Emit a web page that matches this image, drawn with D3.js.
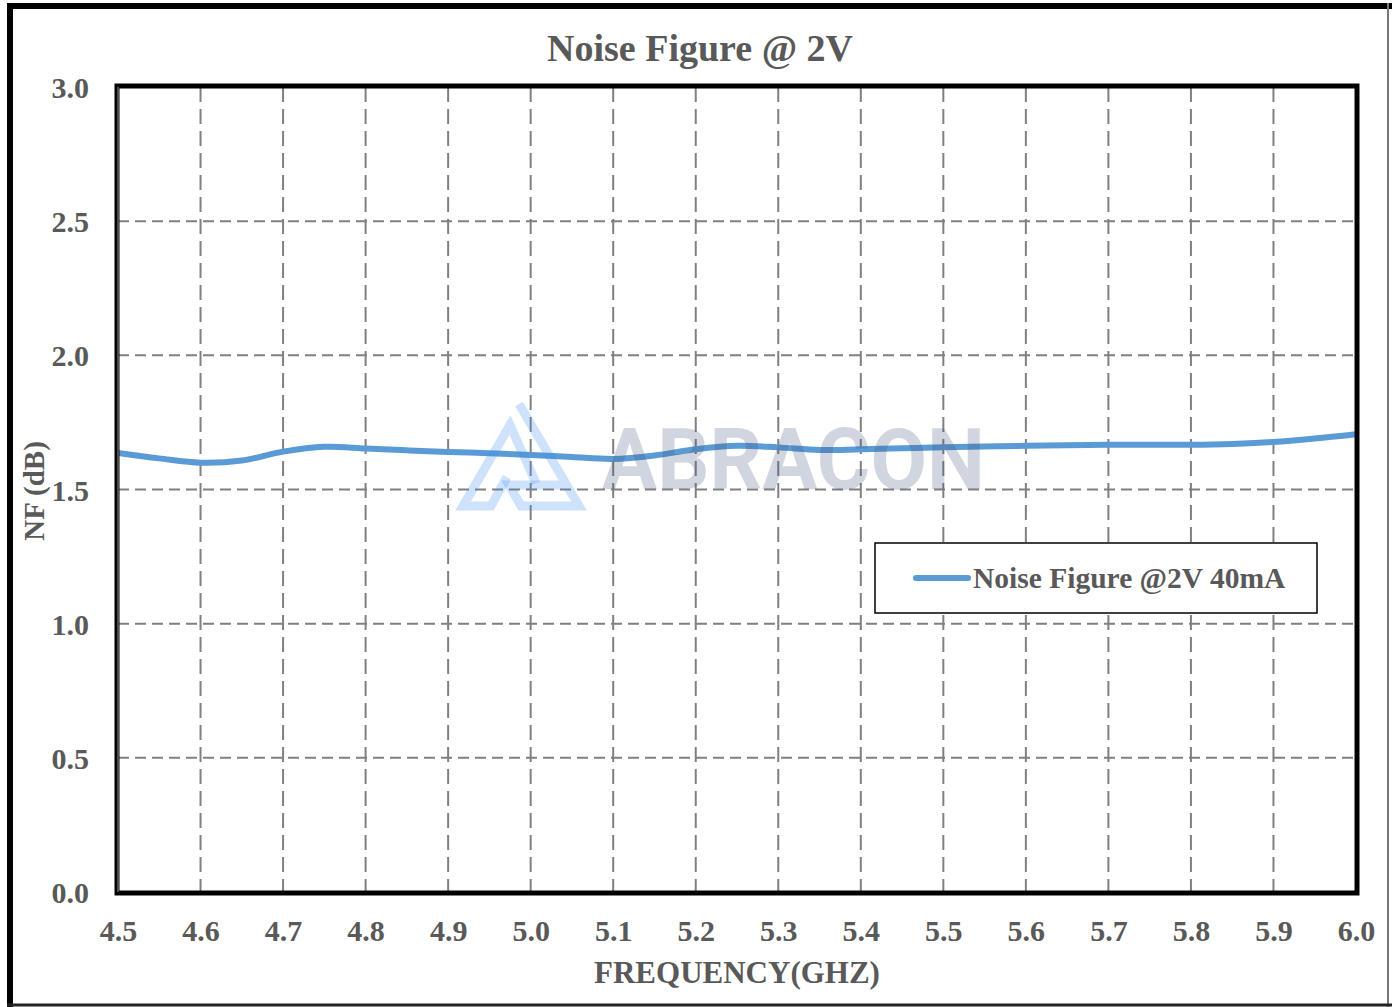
<!DOCTYPE html>
<html><head><meta charset="utf-8">
<script src="https://cdn.jsdelivr.net/npm/d3@7"></script>
<style>html,body{margin:0;padding:0;background:#fff;}svg{display:block;}</style>
</head><body>
<script>
const freqs = [4.50,4.55,4.60,4.65,4.70,4.75,4.80,4.85,4.90,4.95,5.00,5.05,5.10,5.15,5.20,5.25,5.30,5.35,5.40,5.45,5.50,5.60,5.70,5.80,5.85,5.90,5.95,6.00];
const nfValues = [1.636,1.616,1.600,1.608,1.641,1.659,1.653,1.646,1.640,1.635,1.629,1.621,1.614,1.627,1.650,1.663,1.657,1.647,1.650,1.654,1.657,1.663,1.667,1.667,1.670,1.677,1.690,1.706];
const xTicks = [4.5,4.6,4.7,4.8,4.9,5.0,5.1,5.2,5.3,5.4,5.5,5.6,5.7,5.8,5.9,6.0];
const yTicks = [0.0,0.5,1.0,1.5,2.0,2.5,3.0];
const seriesName = "Noise Figure @2V 40mA";
const titleText = "Noise Figure @ 2V";
const xTitle = "FREQUENCY(GHZ)";
const yTitle = "NF (dB)";

const W = 1395, H = 1007;
const L = 118, R = 1356, T = 87, B = 892;
const svg = d3.select("body").append("svg").attr("width", W).attr("height", H);
const serif = "'Liberation Serif','Times New Roman',serif";
const txt = "#595959";

const x = d3.scaleLinear().domain([4.5, 6.0]).range([L, R]);
const y = d3.scaleLinear().domain([0, 3]).range([B, T]);

// outer border
svg.append("line").attr("x1",10).attr("x2",10).attr("y1",3).attr("y2",1007).attr("stroke","#000").attr("stroke-width",6);
svg.append("line").attr("x1",7).attr("x2",1392).attr("y1",6).attr("y2",6).attr("stroke","#000").attr("stroke-width",6);
svg.append("line").attr("x1",1388).attr("x2",1388).attr("y1",3).attr("y2",1007).attr("stroke","#777").attr("stroke-width",2);
svg.append("line").attr("x1",7).attr("x2",1392).attr("y1",1005).attr("y2",1005).attr("stroke","#222").attr("stroke-width",3);

// grid
const gx = svg.append("g");
gx.selectAll("line").data(xTicks.slice(1, -1)).join("line")
  .attr("x1", d => x(d)).attr("x2", d => x(d)).attr("y1", T).attr("y2", B)
  .attr("stroke", "#808080").attr("stroke-width", 2).attr("stroke-dasharray", "15,7");
const gy = svg.append("g");
gy.selectAll("line").data(yTicks.slice(1, -1)).join("line")
  .attr("x1", L).attr("x2", R).attr("y1", d => y(d)).attr("y2", d => y(d))
  .attr("stroke", "#808080").attr("stroke-width", 2).attr("stroke-dasharray", "11,6");

// axes (labels)
const xAxis = d3.axisBottom(x).tickValues(xTicks).tickFormat(d3.format(".1f")).tickSize(0).tickPadding(0);
const xg = svg.append("g").attr("transform", `translate(0,${B})`).call(xAxis);
xg.select(".domain").remove();
xg.selectAll("text").attr("dy", null).attr("y", 49)
  .attr("font-family", serif).attr("font-weight", "bold").attr("font-size", 30).attr("fill", txt);

const yAxis = d3.axisLeft(y).tickValues(yTicks).tickFormat(d3.format(".1f")).tickSize(0).tickPadding(0);
const yg = svg.append("g").attr("transform", `translate(${L},0)`).call(yAxis);
yg.select(".domain").remove();
yg.selectAll("text").attr("x", -29).attr("dy", "0.35em")
  .attr("font-family", serif).attr("font-weight", "bold").attr("font-size", 30).attr("fill", txt);

// series line
const line = d3.line().x((d, i) => x(freqs[i])).y(d => y(d)).curve(d3.curveCatmullRom.alpha(0.5));
svg.append("path").datum(nfValues).attr("d", line)
  .attr("fill", "none").attr("stroke", "#5b9bd5").attr("stroke-width", 6).attr("stroke-linecap", "round");

// watermark
const wm = svg.append("g");
const logo = [
  [[519,404],[579,506],[521,506],[509,485],[563,485]],
  [[536,483],[510,425],[463,506],[491,506],[507,477]],
];
wm.selectAll("path").data(logo).join("path")
  .attr("d", d => d3.line()(d))
  .attr("fill", "none").attr("stroke", "#3d8af0").attr("stroke-opacity", 0.25)
  .attr("stroke-width", 9).attr("stroke-linejoin", "miter").attr("stroke-linecap", "butt");
wm.append("text").attr("x", 602).attr("y", 489).text("ABRACON")
  .attr("font-family", "Roboto, 'DejaVu Sans', sans-serif").attr("font-weight", "bold")
  .attr("font-size", 86).attr("textLength", 383).attr("lengthAdjust", "spacingAndGlyphs")
  .attr("fill", "#3d4f7a").attr("fill-opacity", 0.24);

// plot frame
svg.append("rect").attr("x", L - 1).attr("y", T - 1).attr("width", R - L + 2).attr("height", B - T + 2)
  .attr("fill", "none").attr("stroke", "#000").attr("stroke-width", 5);
svg.append("line").attr("x1", L).attr("x2", L).attr("y1", T).attr("y2", B).attr("stroke", "#999").attr("stroke-width", 1);

// legend
const lg = svg.append("g");
lg.append("rect").attr("x", 875).attr("y", 543).attr("width", 442).attr("height", 70)
  .attr("fill", "#fff").attr("stroke", "#000").attr("stroke-width", 1.5);
lg.append("line").attr("x1", 916).attr("x2", 968).attr("y1", 578).attr("y2", 578)
  .attr("stroke", "#5b9bd5").attr("stroke-width", 6).attr("stroke-linecap", "round");
lg.append("text").attr("x", 973).attr("y", 588).text(seriesName)
  .attr("font-family", serif).attr("font-weight", "bold").attr("font-size", 29.5).attr("fill", txt);

// titles
svg.append("text").attr("x", 700).attr("y", 61).attr("text-anchor", "middle").text(titleText)
  .attr("font-family", serif).attr("font-weight", "bold").attr("font-size", 38).attr("fill", txt);
svg.append("text").attr("x", 737).attr("y", 983).attr("text-anchor", "middle").text(xTitle)
  .attr("font-family", serif).attr("font-weight", "bold").attr("font-size", 31).attr("fill", txt);
svg.append("text").attr("transform", "translate(44,491) rotate(-90)").attr("text-anchor", "middle").text(yTitle)
  .attr("font-family", serif).attr("font-weight", "bold").attr("font-size", 29).attr("fill", txt);
</script>
</body></html>
